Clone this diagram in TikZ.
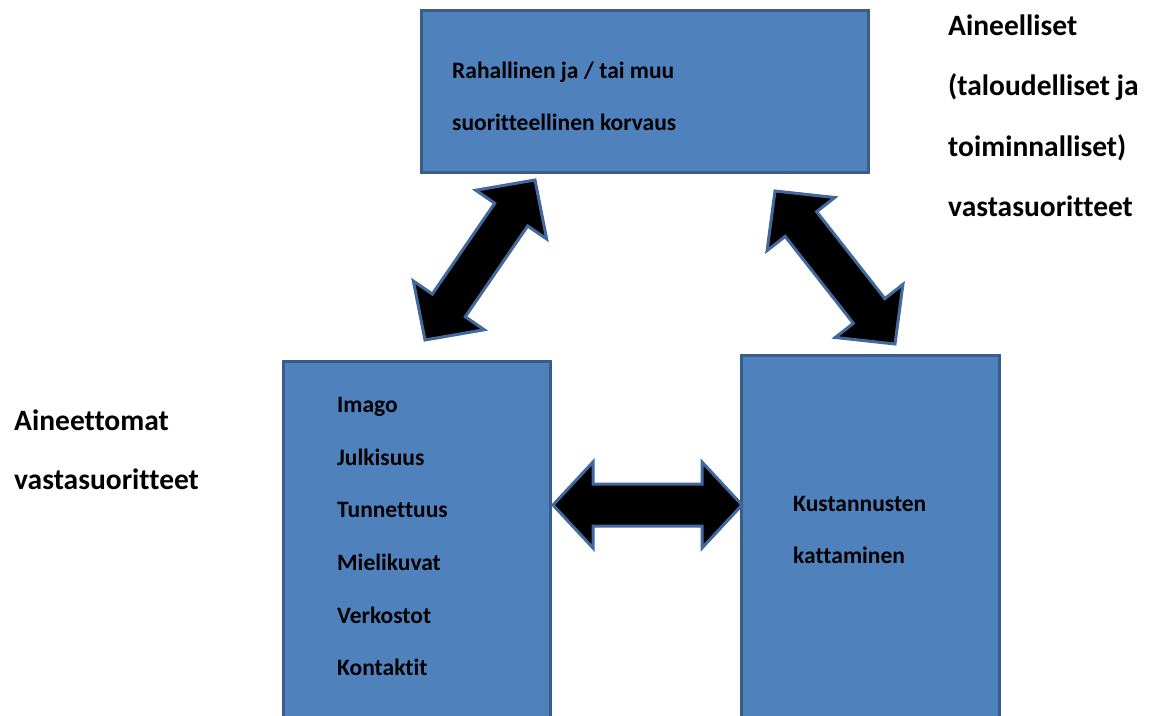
\documentclass[tikz,border=0pt]{standalone}
\usepackage{fontspec}
\setmainfont{Carlito}[Ligatures=NoCommon]
\usetikzlibrary{calc}
\definecolor{boxfill}{HTML}{4F81BD}
\definecolor{boxline}{HTML}{385D8A}
\definecolor{arrline}{HTML}{41699E}
\tikzset{
  bluebox/.style={draw=boxline, fill=boxfill, line width=3pt, rectangle, inner sep=0pt, outer sep=0pt},
  intext/.style={anchor=base west, inner sep=0pt, font=\fontsize{23.5}{23.5}\selectfont\bfseries},
  outtext/.style={anchor=base west, inner sep=0pt, font=\fontsize{29.5}{29.5}\selectfont\bfseries},
  blockarrow/.style={draw=arrline, fill=black, line width=3pt, line join=miter, miter limit=3},
}
% #1,#2 tips, #3 head length, #4 shaft half width, #5 head half width
\newcommand\dblarrow[5]{%
  \draw[blockarrow] (#1)
    -- ($(#1)!#3!(#2)!#5!90:(#2)$)
    -- ($(#1)!#3!(#2)!#4!90:(#2)$)
    -- ($(#2)!#3!(#1)!#4!-90:(#1)$)
    -- ($(#2)!#3!(#1)!#5!-90:(#1)$)
    -- (#2)
    -- ($(#2)!#3!(#1)!#5!90:(#1)$)
    -- ($(#2)!#3!(#1)!#4!90:(#1)$)
    -- ($(#1)!#3!(#2)!#4!-90:(#2)$)
    -- ($(#1)!#3!(#2)!#5!-90:(#2)$)
    -- cycle;}
\begin{document}
\begin{tikzpicture}[x=1pt,y=-1pt]
\clip (0,0) rectangle (1154,715);
\fill[white] (0,0) rectangle (1154,715);
% boxes
\node[bluebox, minimum width=447pt, minimum height=162pt] (top) at (644.5,91) {};
\node[bluebox, minimum width=267pt, minimum height=370pt] (left) at (416.5,546) {};
\node[bluebox, minimum width=258pt, minimum height=375pt] (right) at (870,543) {};
% arrow tips
\coordinate (a1s) at (535,180);
\coordinate (a1e) at (425,340);
\coordinate (a2s) at (775,191);
\coordinate (a2e) at (895,344);
\coordinate (a3s) at (553,505);
\coordinate (a3e) at (742,505);
\dblarrow{a1s}{a1e}{42pt}{20pt}{43pt}
\dblarrow{a2s}{a2e}{42pt}{20pt}{43pt}
\dblarrow{a3s}{a3e}{40pt}{21pt}{43pt}
% top box text
\node[intext] (t1) at (452,78) {Rahallinen ja / tai muu};
\node[intext] (t2) at (452,130) {suoritteellinen korvaus};
% left box text
\node[intext] (l1) at (337,412) {Imago};
\node[intext] (l2) at (337,465) {Julkisuus};
\node[intext] (l3) at (337,517) {Tunnettuus};
\node[intext] (l4) at (337,570) {Mielikuvat};
\node[intext] (l5) at (337,623) {Verkostot};
\node[intext] (l6) at (337,675) {Kontaktit};
% right box text
\node[intext] (r1) at (793,511) {Kustannusten};
\node[intext] (r2) at (793,563) {kattaminen};
% outside labels
\node[outtext] (o1) at (14,430) {Aineettomat};
\node[outtext] (o2) at (14,489) {vastasuoritteet};
\node[outtext] (p1) at (948,35) {Aineelliset};
\node[outtext] (p2) at (948,95) {(taloudelliset ja};
\node[outtext] (p3) at (948,156) {toiminnalliset)};
\node[outtext] (p4) at (948,216) {vastasuoritteet};
\end{tikzpicture}
\end{document}
